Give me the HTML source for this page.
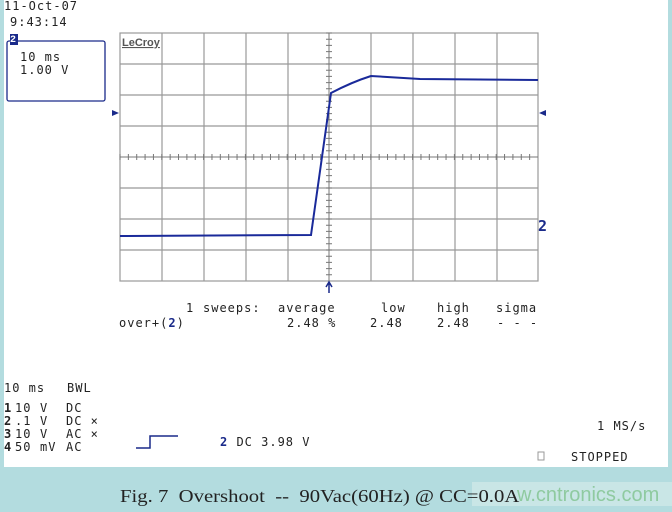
<!DOCTYPE html>
<html><head><style>
body{margin:0;width:672px;height:512px;background:#b3dcdf;position:relative;overflow:hidden;font-family:"DejaVu Sans Mono","Liberation Mono",monospace;}
.w{position:absolute;left:4px;top:0;width:664px;height:467px;background:#fff;}
.t{position:absolute;font-size:12px;color:#222;white-space:pre;line-height:13px;letter-spacing:1px;}
.b{color:#1a2a8a;font-weight:bold;}
</style></head><body>
<div class="w"></div>
<svg width="672" height="512" style="position:absolute;left:0;top:0">
<g stroke="#999" stroke-width="1.2" fill="none">
<rect x="120" y="33" width="418" height="248"/>
<path d="M162 33V281M204 33V281M246 33V281M288 33V281M371 33V281M413 33V281M455 33V281M497 33V281M120 64H538M120 95H538M120 126H538M120 188H538M120 219H538M120 250H538"/>
</g>
<g stroke="#777" stroke-width="1">
<path d="M120 157H538M329 33V281"/>
</g>
<g stroke="#777" stroke-width="1" id="tk"></g>
<path d="M120 236L311 235L331 93Q352 82 371 76L420 79L538 80" stroke="#1a2a9a" stroke-width="2" fill="none"/>
<rect x="7" y="41" width="98" height="60" rx="2" fill="none" stroke="#1a2a8a" stroke-width="1.3"/>
<rect x="10" y="34" width="8" height="11" fill="#1a2a8a"/>
<polygon points="112,110 119,113 112,116" fill="#1a2a8a"/>
<polygon points="546,110 539,113 546,116" fill="#1a2a8a"/>
<path d="M329 293V283M326 287L329 282L332 287" stroke="#1a2a8a" stroke-width="1.5" fill="none"/>
<path d="M136 448H150V436H178" stroke="#1a2a8a" stroke-width="1.5" fill="none"/>
<rect x="538" y="452" width="6" height="8" fill="none" stroke="#999"/>
<rect x="472" y="482" width="200" height="24" fill="#c9e6e6"/>
<text x="10" y="42" font-family="Liberation Mono" font-size="10" font-weight="bold" fill="#fff">2</text>
<text x="122" y="46" font-family="Liberation Sans" font-size="11" font-weight="bold" fill="#555" text-decoration="underline">LeCroy</text>
</svg>
<script>
var g=document.getElementById('tk'),s='';
for(var i=0;i<50;i++){var x=120+i*8.36;s+='M'+x+' 154V160';}
for(var j=0;j<40;j++){var y=33+j*6.2;s+='M326 '+y+'H332';}
var p=document.createElementNS('http://www.w3.org/2000/svg','path');p.setAttribute('d',s);p.setAttribute('stroke','#777');g.appendChild(p);
</script>
<div class="t" style="left:4px;top:0px">11-Oct-07</div>
<div class="t" style="left:10px;top:16px">9:43:14</div>
<div class="t" style="left:20px;top:51px">10 ms
1.00 V</div>
<div class="t b" style="left:538px;top:220px;font-size:15px">2</div>
<div class="t" style="left:186px;top:302px">1</div>
<div class="t" style="left:203px;top:302px">sweeps:</div>
<div class="t" style="left:278px;top:302px">average</div>
<div class="t" style="left:381px;top:302px">low</div>
<div class="t" style="left:437px;top:302px">high</div>
<div class="t" style="left:496px;top:302px">sigma</div>
<div class="t" style="left:119px;top:317px">over+(<span class="b">2</span>)</div>
<div class="t" style="left:287px;top:317px">2.48 %</div>
<div class="t" style="left:370px;top:317px">2.48</div>
<div class="t" style="left:437px;top:317px">2.48</div>
<div class="t" style="left:497px;top:317px">- - -</div>
<div class="t" style="left:4px;top:382px">10 ms</div>
<div class="t" style="left:67px;top:382px">BWL</div>
<div class="t" style="left:4px;top:402px"><b>1</b>
<b>2</b>
<b>3</b>
<b>4</b></div>
<div class="t" style="left:15px;top:402px">10
.1
10
50</div>
<div class="t" style="left:40px;top:402px">V
V
V
mV</div>
<div class="t" style="left:66px;top:402px">DC
DC ×
AC ×
AC</div>
<div class="t" style="left:220px;top:436px"><span class="b">2</span> DC 3.98 V</div>
<div class="t" style="left:597px;top:420px">1 MS/s</div>
<div class="t" style="left:571px;top:451px">STOPPED</div>
<div style="position:absolute;left:120px;top:486px;font-family:'Liberation Serif',serif;font-size:18px;color:#222;white-space:pre;transform-origin:0 0;transform:scaleX(1.15)">Fig. 7  Overshoot  --  90Vac(60Hz) @ CC=0.0A</div>
<div style="position:absolute;left:517px;top:484px;font-family:'Liberation Sans',sans-serif;font-size:20px;color:#8fcaa0;white-space:pre">w.cntronics.com</div>
</body></html>
